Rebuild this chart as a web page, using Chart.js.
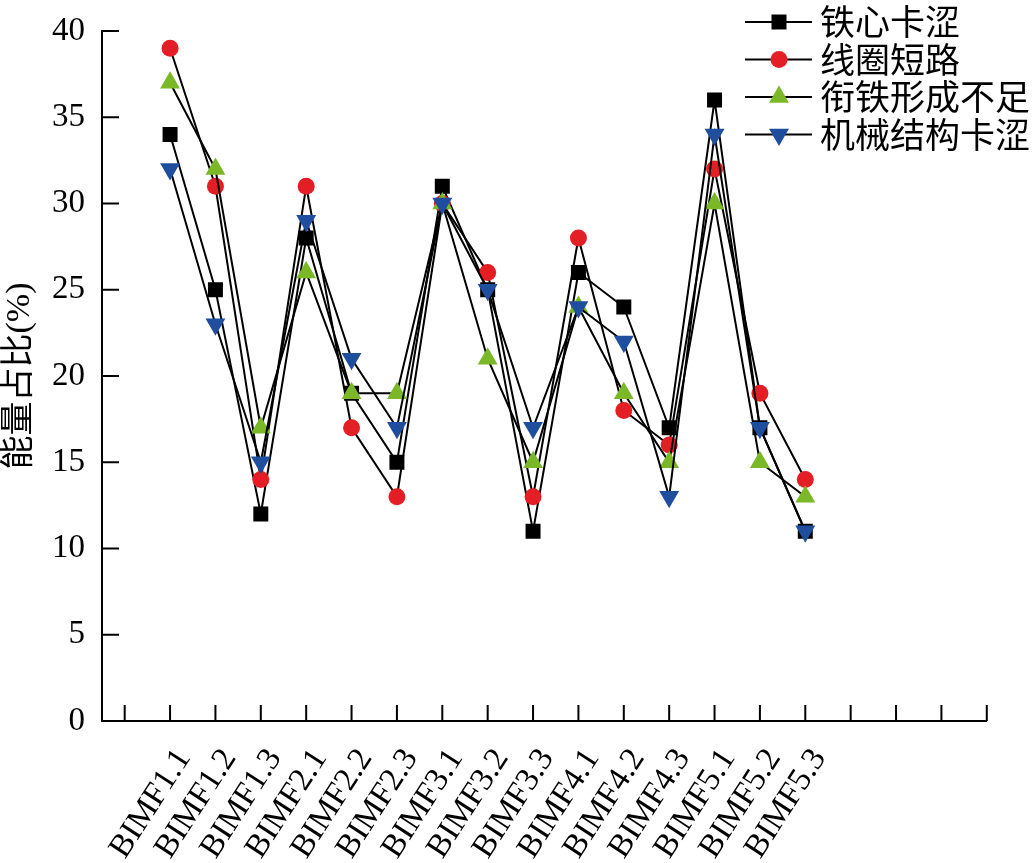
<!DOCTYPE html>
<html>
<head>
<meta charset="utf-8">
<script src="https://cdn.jsdelivr.net/npm/chart.js@4"></script>
<style>
  html, body { margin: 0; padding: 0; background: #fff; }
</style>
</head>
<body>
<canvas id="chart" width="1033" height="863"></canvas>
<script>
const categories = [
  "BIMF1.1", "BIMF1.2", "BIMF1.3", "BIMF2.1", "BIMF2.2", "BIMF2.3",
  "BIMF3.1", "BIMF3.2", "BIMF3.3", "BIMF4.1", "BIMF4.2", "BIMF4.3",
  "BIMF5.1", "BIMF5.2", "BIMF5.3",
];
// tick slots on the x axis: an empty one before the data, four empty after
const xTicks = [0, 1, 2, 3, 4, 5, 6, 7, 8, 9, 10, 11, 12, 13, 14, 15, 16, 17, 18, 19];

const seriesNames = ["铁心卡涩", "线圈短路", "衔铁形成不足", "机械结构卡涩"];
const coreJam = [34, 25, 12, 28, 19, 15, 31, 25, 11, 26, 24, 17, 36, 17, 11];
const coilShort = [39, 31, 14, 31, 17, 13, 30, 26, 13, 28, 18, 16, 32, 19, 14];
const armatureLow = [37, 32, 17, 26, 19, 19, 30, 21, 15, 24, 19, 15, 30, 15, 13];
const mechJam = [32, 23, 15, 29, 21, 17, 30, 25, 17, 24, 22, 13, 34, 17, 11];

const serif = '"Liberation Serif", "Times New Roman", serif';

// category i sits on tick i + 1
const toPoints = (values) => values.map((v, i) => ({ x: i + 1, y: v }));

// inward tick marks on both axes
const innerTicks = {
  id: "innerTicks",
  beforeDatasetsDraw(chart) {
    const { ctx, chartArea, scales } = chart;
    ctx.save();
    ctx.strokeStyle = "#000";
    ctx.lineWidth = 2;
    ctx.beginPath();
    scales.x.ticks.forEach((t) => {
      const px = scales.x.getPixelForValue(t.value);
      ctx.moveTo(px, chartArea.bottom);
      ctx.lineTo(px, chartArea.bottom - 16);
    });
    scales.y.ticks.forEach((t) => {
      const py = scales.y.getPixelForValue(t.value);
      ctx.moveTo(chartArea.left, py);
      ctx.lineTo(chartArea.left + 17, py);
    });
    ctx.stroke();
    ctx.restore();
  },
};

// line + marker legend in the top right corner
const lineLegend = {
  id: "lineLegend",
  afterDraw(chart) {
    const ctx = chart.ctx;
    chart.data.datasets.forEach((ds, i) => {
      const y = 22 + i * 37.5;
      ctx.save();
      ctx.strokeStyle = "#000";
      ctx.lineWidth = 2;
      ctx.beginPath();
      ctx.moveTo(745, y);
      ctx.lineTo(812, y);
      ctx.stroke();
      ctx.fillStyle = ds.pointBackgroundColor;
      Chart.helpers.drawPoint(ctx, {
        pointStyle: ds.pointStyle,
        rotation: ds.pointRotation || 0,
        radius: ds.pointRadius,
        borderWidth: 0,
      }, 779, y);
      ctx.fillStyle = "#000";
      ctx.font = '35px "Noto Sans CJK SC"';
      ctx.textAlign = "left";
      ctx.textBaseline = "middle";
      ctx.fillText(ds.label, 820, y);
      ctx.restore();
    });
  },
};

const makeSeries = (name, values, style, color, radius, rotation, order) => ({
  label: name,
  data: toPoints(values),
  borderColor: "#000",
  borderWidth: 2,
  pointStyle: style,
  pointRotation: rotation,
  pointRadius: radius,
  pointHoverRadius: radius,
  pointBackgroundColor: color,
  pointBorderColor: color,
  pointBorderWidth: 0,
  order: order,
});

new Chart(document.getElementById("chart"), {
  type: "line",
  data: {
    datasets: [
      makeSeries(seriesNames[0], coreJam, "rect", "#000000", 10.6, 0, 4),
      makeSeries(seriesNames[1], coilShort, "circle", "#E31E24", 8.5, 0, 3),
      makeSeries(seriesNames[2], armatureLow, "triangle", "#7AB828", 11.5, 0, 2),
      makeSeries(seriesNames[3], mechJam, "triangle", "#1F4E9E", 11.5, 180, 1),
    ],
  },
  plugins: [innerTicks, lineLegend],
  options: {
    responsive: false,
    animation: false,
    layout: { padding: { top: 31, right: 42, left: 0, bottom: 0 } },
    plugins: {
      legend: { display: false },
      tooltip: { enabled: false },
    },
    scales: {
      x: {
        type: "linear",
        min: -0.5,
        max: 19,
        afterBuildTicks: (s) => {
          s.ticks = xTicks.map((v) => ({ value: v }));
        },
        afterFit: (s) => {
          s.height = 142;
        },
        grid: { display: false },
        border: { display: true, color: "#000", width: 2 },
        ticks: {
          autoSkip: false,
          minRotation: 57,
          maxRotation: 57,
          padding: 13,
          labelOffset: 14,
          color: "#000",
          font: { family: serif, size: 33 },
          callback: (v) => categories[v - 1] || "",
        },
      },
      y: {
        min: 0,
        max: 40,
        afterFit: (s) => {
          s.width = 102;
        },
        grid: { display: false },
        border: { display: true, color: "#000", width: 2 },
        ticks: {
          stepSize: 5,
          padding: 9,
          color: "#000",
          font: { family: serif, size: 33 },
        },
        title: {
          display: true,
          text: "能量占比(%)",
          color: "#000",
          font: { family: '"Liberation Serif", "Noto Sans CJK SC", serif', size: 34 },
          padding: { top: 0, bottom: 0 },
        },
      },
    },
  },
});
</script>
</body>
</html>
